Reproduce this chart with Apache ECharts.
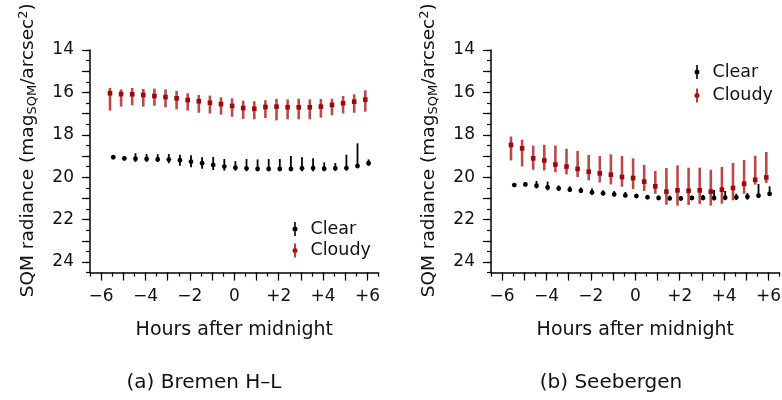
<!DOCTYPE html>
<html>
<head>
<meta charset="utf-8">
<script src="https://cdn.jsdelivr.net/npm/echarts@6/dist/echarts.min.js"></script>
<style>html,body{margin:0;padding:0;background:#fff}#c{width:782px;height:400px}</style>
</head>
<body>
<div id="c"></div>
<script>
// ---- data ----
const hours = [-5.5,-5,-4.5,-4,-3.5,-3,-2.5,-2,-1.5,-1,-0.5,0,0.5,1,1.5,2,2.5,3,3.5,4,4.5,5,5.5,6];

const bremenClearMed = [19.06,19.11,19.13,19.14,19.16,19.17,19.20,19.27,19.34,19.42,19.50,19.55,19.58,19.61,19.61,19.61,19.61,19.58,19.57,19.60,19.58,19.57,19.47,19.34];
const bremenClearLo  = [19.00,19.01,18.87,18.91,18.91,18.91,18.94,18.97,19.06,19.05,19.14,19.24,19.14,19.16,19.14,19.14,19.00,19.06,19.11,19.30,19.33,18.94,18.40,19.16];
const bremenClearHi  = [19.12,19.22,19.28,19.28,19.28,19.34,19.46,19.53,19.60,19.66,19.69,19.69,19.72,19.72,19.72,19.72,19.72,19.72,19.72,19.72,19.71,19.69,19.58,19.47];

const bremenCloudyMed = [16.04,16.08,16.09,16.12,16.17,16.22,16.28,16.36,16.42,16.49,16.55,16.64,16.74,16.77,16.69,16.67,16.70,16.70,16.70,16.67,16.59,16.51,16.44,16.34];
const bremenCloudyLo  = [15.79,15.86,15.79,15.84,15.82,15.86,15.93,16.04,16.12,16.15,16.23,16.28,16.39,16.42,16.37,16.31,16.33,16.30,16.33,16.31,16.30,16.17,16.09,15.90];
const bremenCloudyHi  = [16.86,16.67,16.61,16.67,16.63,16.70,16.80,16.86,16.96,17.00,17.05,17.15,17.25,17.27,17.21,17.32,17.27,17.27,17.27,17.19,17.08,16.99,16.96,16.91];

const seebClearMed = [20.37,20.34,20.40,20.48,20.53,20.59,20.64,20.72,20.76,20.81,20.86,20.89,20.95,20.98,21.00,21.00,20.98,20.98,20.98,20.97,20.95,20.92,20.87,20.79];
const seebClearLo  = [20.27,20.25,20.18,20.21,20.39,20.43,20.48,20.53,20.62,20.65,20.70,20.78,20.83,20.87,20.87,20.89,20.87,20.84,20.60,20.65,20.78,20.75,20.32,20.43];
const seebClearHi  = [20.46,20.43,20.53,20.62,20.65,20.70,20.75,20.84,20.86,20.91,20.95,20.98,21.03,21.06,21.08,21.10,21.08,21.08,21.09,21.08,21.08,21.06,20.98,20.87];

const seebCloudyMed = [18.48,18.64,19.11,19.21,19.40,19.50,19.61,19.74,19.82,19.88,19.99,20.04,20.21,20.43,20.68,20.62,20.64,20.62,20.68,20.59,20.51,20.31,20.12,20.01];
const seebCloudyLo  = [18.08,18.23,18.51,18.47,18.51,18.66,18.76,18.95,19.00,18.92,19.00,19.11,19.42,19.71,19.57,19.44,19.55,19.55,19.65,19.52,19.33,19.19,18.99,18.81];
const seebCloudyHi  = [19.21,19.49,19.65,19.68,19.77,19.87,19.99,20.15,20.25,20.34,20.45,20.56,20.65,20.78,21.30,21.34,21.31,21.26,21.34,21.25,21.09,20.78,20.35,20.27];

const xTickValues = [-6,-4,-2,0,2,4,6];
const xTickLabels = ['\u22126','\u22124','\u22122','0','+2','+4','+6'];
const yTickValues = [14,16,18,20,22,24];
const yTickLabels = ['14','16','18','20','22','24'];
const seriesNames = ['Clear','Cloudy'];
const captions = ['(a) Bremen H\u2013L','(b) Seebergen'];
const xTitle = 'Hours after midnight';

// ---- helpers ----
const FONT = 'DejaVu Sans';
const TXT = '#111';
const X_MIN = -6.5, X_MAX = 6.5, Y_MIN = 14, Y_MAX = 24.5;
const halfSteps = (a, b) => { const r = []; for (let v = a; v <= b + 1e-9; v += 0.5) r.push(v); return r; };
const wholeSteps = (a, b) => { const r = []; for (let v = Math.ceil(a); v <= b + 1e-9; v += 1) r.push(v); return r; };

function rows(med, lo, hi) { return hours.map((h, i) => [h, med[i], lo[i], hi[i]]); }

function errRender(kind, dx) {
  return function (params, api) {
    const x = api.value(0);
    const pm = api.coord([x, api.value(1)]);
    const pl = api.coord([x, api.value(2)]);
    const ph = api.coord([x, api.value(3)]);
    const px = pm[0] + dx;
    const children = [];
    if (kind === 'clear') {
      children.push({ type: 'line', shape: { x1: px, y1: pl[1], x2: px, y2: ph[1] }, style: { stroke: '#000', lineWidth: 1.8 } });
      children.push({ type: 'circle', shape: { cx: px, cy: pm[1], r: 2.4 }, style: { fill: '#000' } });
    } else {
      children.push({ type: 'line', shape: { x1: px, y1: pl[1], x2: px, y2: ph[1] }, style: { stroke: '#b84a4c', lineWidth: 2.6 } });
      children.push({ type: 'rect', shape: { x: px - 2.3, y: pm[1] - 2.3, width: 4.6, height: 4.6 }, style: { fill: '#9c0808' } });
    }
    return { type: 'group', children: children };
  };
}

const yName = '{t|SQM radiance (mag}{s|SQM}{t|/arcsec}{p|2}{t|)}';
const yNameStyle = {
  color: TXT, fontFamily: FONT, fontSize: 18.5, padding: [0, 0, 0, 22],
  rich: {
    t: { fontFamily: FONT, fontSize: 18.5, color: TXT },
    s: { fontFamily: FONT, fontSize: 13, color: TXT, padding: [8, 0, 0, 0] },
    p: { fontFamily: FONT, fontSize: 13, color: TXT, padding: [0, 0, 10, 0] }
  }
};

function mainX(gi) {
  return {
    type: 'value', gridIndex: gi, position: 'bottom', min: X_MIN, max: X_MAX,
    name: xTitle, nameLocation: 'middle', nameGap: 48,
    nameTextStyle: { color: TXT, fontFamily: FONT, fontSize: 19 },
    axisLine: { show: true, onZero: false, lineStyle: { color: '#000', width: 1.5 } },
    axisTick: { show: true, length: 4, customValues: halfSteps(X_MIN, X_MAX), lineStyle: { color: '#000', width: 1.2 } },
    axisLabel: { show: true, margin: 15, customValues: xTickValues, color: TXT, fontFamily: FONT, fontSize: 17,
      formatter: v => { const i = xTickValues.indexOf(Math.round(v)); return i >= 0 ? xTickLabels[i] : ''; } },
    splitLine: { show: false }
  };
}
function majorX(gi) {
  return {
    type: 'value', gridIndex: gi, position: 'bottom', min: X_MIN, max: X_MAX,
    axisLine: { show: false, onZero: false },
    axisTick: { show: true, length: 8, customValues: wholeSteps(X_MIN, X_MAX), lineStyle: { color: '#000', width: 1.2 } },
    axisLabel: { show: false }, splitLine: { show: false }
  };
}
function mainY(gi) {
  return {
    type: 'value', gridIndex: gi, position: 'left', inverse: true, min: Y_MIN, max: Y_MAX,
    name: yName, nameLocation: 'middle', nameGap: 50, nameTextStyle: yNameStyle,
    axisLine: { show: true, onZero: false, lineStyle: { color: '#000', width: 1.5 } },
    axisTick: { show: true, length: 4, customValues: halfSteps(Y_MIN, Y_MAX), lineStyle: { color: '#000', width: 1.2 } },
    axisLabel: { show: true, margin: 16, customValues: yTickValues, color: TXT, fontFamily: FONT, fontSize: 17,
      formatter: v => { const i = yTickValues.indexOf(Math.round(v)); return i >= 0 ? yTickLabels[i] : ''; } },
    splitLine: { show: false }
  };
}
function majorY(gi) {
  return {
    type: 'value', gridIndex: gi, position: 'left', inverse: true, min: Y_MIN, max: Y_MAX,
    axisLine: { show: false, onZero: false },
    axisTick: { show: true, length: 8, customValues: wholeSteps(Y_MIN, Y_MAX), lineStyle: { color: '#000', width: 1.2 } },
    axisLabel: { show: false }, splitLine: { show: false }
  };
}

const ICON = 'path://M2.2,0h1.6v14h-1.6z M0.5,7a2.5,2.5 0 1,1 5,0a2.5,2.5 0 1,1 -5,0z';
function legend(left, top, gap) {
  return {
    orient: 'vertical', left: left, top: top, itemGap: gap, itemWidth: 5, itemHeight: 14,
    icon: ICON, data: seriesNames,
    textStyle: { color: TXT, fontFamily: FONT, fontSize: 17.5, padding: [0, 0, 0, 8], lineHeight: 20 }
  };
}

const chart = echarts.init(document.getElementById('c'), null, { renderer: 'canvas' });
chart.setOption({
  backgroundColor: '#fff',
  animation: false,
  grid: [
    { left: 90, top: 50, width: 288.6, height: 222.6, containLabel: false, outerBoundsMode: 'none' },
    { left: 491, top: 50, width: 288.6, height: 222.6, containLabel: false, outerBoundsMode: 'none' }
  ],
  xAxis: [mainX(0), majorX(0), mainX(1), majorX(1)],
  yAxis: [mainY(0), majorY(0), mainY(1), majorY(1)],
  legend: [legend(287.5, 214, 1.5), legend(689.5, 57, 3.5)],
  series: [
    { name: seriesNames[0], type: 'custom', xAxisIndex: 0, yAxisIndex: 0, itemStyle: { color: '#000' },
      encode: { x: 0, y: [1, 2, 3] }, renderItem: errRender('clear', 1.1), data: rows(bremenClearMed, bremenClearLo, bremenClearHi) },
    { name: seriesNames[1], type: 'custom', xAxisIndex: 0, yAxisIndex: 0, itemStyle: { color: '#a01010' },
      encode: { x: 0, y: [1, 2, 3] }, renderItem: errRender('cloudy', -2.2), data: rows(bremenCloudyMed, bremenCloudyLo, bremenCloudyHi) },
    { name: seriesNames[0], type: 'custom', xAxisIndex: 2, yAxisIndex: 2, itemStyle: { color: '#000' },
      encode: { x: 0, y: [1, 2, 3] }, renderItem: errRender('clear', 1.1), data: rows(seebClearMed, seebClearLo, seebClearHi) },
    { name: seriesNames[1], type: 'custom', xAxisIndex: 2, yAxisIndex: 2, itemStyle: { color: '#a01010' },
      encode: { x: 0, y: [1, 2, 3] }, renderItem: errRender('cloudy', -2.2), data: rows(seebCloudyMed, seebCloudyLo, seebCloudyHi) }
  ],
  graphic: [
    { type: 'text', x: 204, y: 383, style: { text: captions[0], fill: TXT, font: '20px "DejaVu Sans"', textAlign: 'center', textVerticalAlign: 'middle' } },
    { type: 'text', x: 611, y: 383, style: { text: captions[1], fill: TXT, font: '20px "DejaVu Sans"', textAlign: 'center', textVerticalAlign: 'middle' } }
  ]
});
</script>
</body>
</html>
